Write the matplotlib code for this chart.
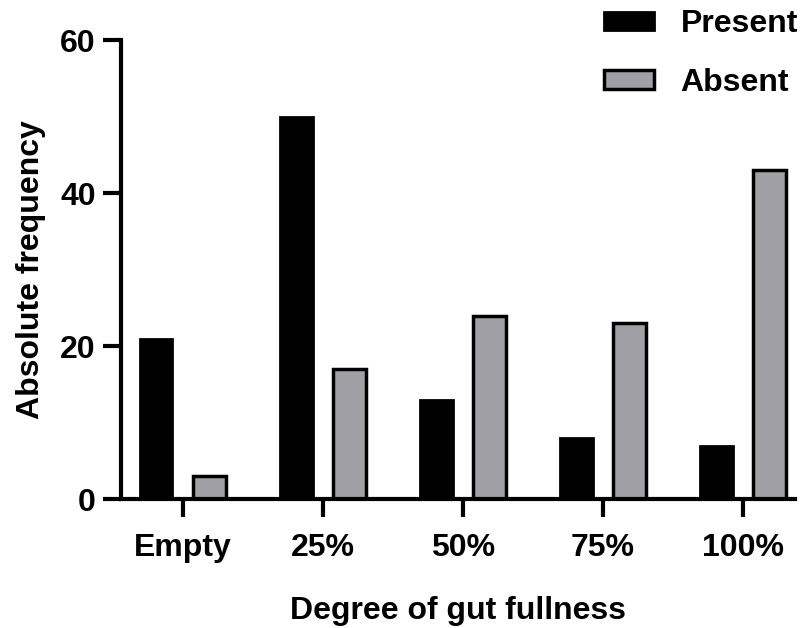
import numpy as np
import matplotlib.pyplot as plt

categories = ["Empty", "25%", "50%", "75%", "100%"]
present = [21, 50, 13, 8, 7]
absent = [3, 17, 24, 23, 43]

plt.rcParams['font.family'] = ['Liberation Sans', 'DejaVu Sans']
plt.rcParams['font.weight'] = 'bold'

fig = plt.figure(figsize=(8.12, 6.28), dpi=100)
ax = fig.add_axes([0.149, 0.205, 0.83, 0.731])

x = np.arange(len(categories))
w = 0.235
off = 0.19
ax.bar(x - off, present, w, color='black', edgecolor='black', linewidth=2, label='Present')
ax.bar(x + off, absent, w, color='#a09fa6', edgecolor='black', linewidth=2.5, label='Absent')

ax.set_xlim(-0.44, 4.37)
ax.set_ylim(0, 60)
ax.set_yticks([0, 20, 40, 60])
ax.set_xticks(x)
ax.set_xticklabels(categories)

for s in ['top', 'right']:
    ax.spines[s].set_visible(False)
for s in ['left', 'bottom']:
    ax.spines[s].set_linewidth(3)

ax.tick_params(axis='both', width=3, length=13, labelsize=23)
ax.tick_params(axis='x', pad=11)
ax.tick_params(axis='y', pad=5)
ax.set_xlabel("Degree of gut fullness", fontsize=23, fontweight='bold', labelpad=24)
ax.set_ylabel("Absolute frequency", fontsize=23, fontweight='bold', labelpad=10)

fig.legend(loc='upper left', bbox_to_anchor=(604 / 812, 1 - 9 / 628), frameon=False, fontsize=23,
           borderpad=0, borderaxespad=0, handlelength=1.55, handleheight=0.5,
           labelspacing=0.9, handletextpad=0.85)

fig.savefig("out.png", dpi=100)
